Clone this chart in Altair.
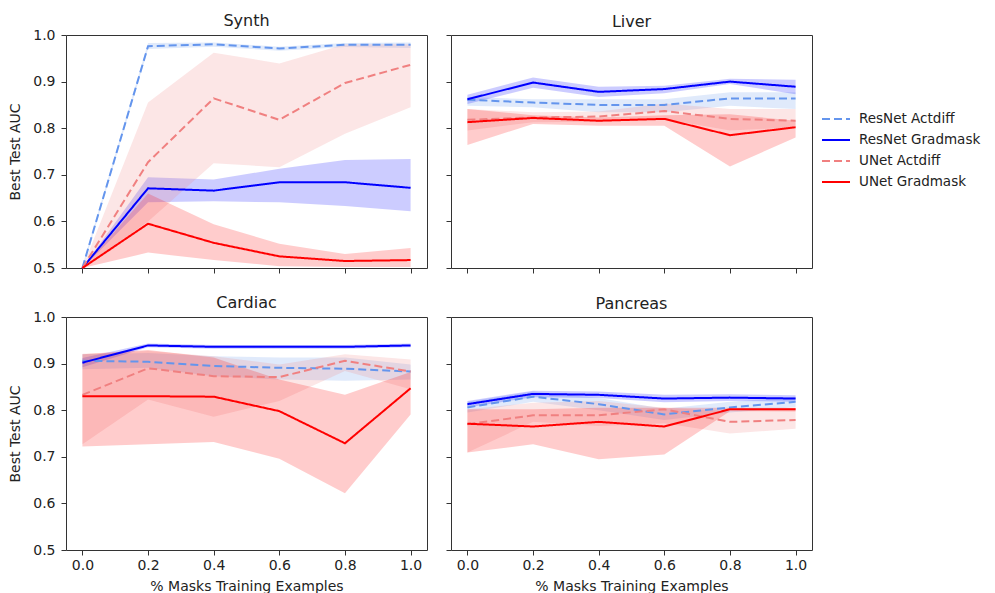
import altair as alt
import pandas as pd

x_vals = [0.0, 0.2, 0.4, 0.6, 0.8, 1.0]
series_names = ["ResNet Actdiff", "ResNet Gradmask", "UNet Actdiff", "UNet Gradmask"]
series_colors = ["#6495ED", "#0000FF", "#F08080", "#FF0000"]
panel_names = ["Synth", "Liver", "Cardiac", "Pancreas"]

# ---- Synth ----
synth_ra = [0.500, 0.976, 0.980, 0.971, 0.979, 0.979]
synth_ra_lo = [0.495, 0.970, 0.975, 0.966, 0.974, 0.972]
synth_ra_hi = [0.505, 0.983, 0.984, 0.975, 0.983, 0.984]
synth_rg = [0.500, 0.671, 0.666, 0.684, 0.684, 0.672]
synth_rg_lo = [0.500, 0.641, 0.643, 0.641, 0.633, 0.622]
synth_rg_hi = [0.500, 0.695, 0.690, 0.713, 0.732, 0.734]
synth_ua = [0.500, 0.727, 0.864, 0.818, 0.897, 0.936]
synth_ua_lo = [0.500, 0.600, 0.725, 0.716, 0.788, 0.845]
synth_ua_hi = [0.500, 0.855, 0.962, 0.939, 0.980, 0.980]
synth_ug = [0.500, 0.595, 0.554, 0.525, 0.515, 0.517]
synth_ug_lo = [0.500, 0.533, 0.517, 0.504, 0.502, 0.502]
synth_ug_hi = [0.500, 0.660, 0.594, 0.552, 0.530, 0.543]

# ---- Liver ----
liver_ra = [0.861, 0.855, 0.850, 0.850, 0.864, 0.864]
liver_ra_lo = [0.848, 0.845, 0.834, 0.834, 0.848, 0.841]
liver_ra_hi = [0.867, 0.862, 0.862, 0.862, 0.877, 0.877]
liver_rg = [0.862, 0.898, 0.878, 0.884, 0.900, 0.889]
liver_rg_lo = [0.852, 0.887, 0.867, 0.875, 0.895, 0.873]
liver_rg_hi = [0.872, 0.909, 0.889, 0.891, 0.906, 0.904]
liver_ua = [0.818, 0.823, 0.825, 0.837, 0.820, 0.816]
liver_ua_lo = [0.795, 0.813, 0.814, 0.820, 0.795, 0.802]
liver_ua_hi = [0.841, 0.834, 0.836, 0.853, 0.841, 0.841]
liver_ug = [0.813, 0.822, 0.816, 0.820, 0.785, 0.802]
liver_ug_lo = [0.764, 0.809, 0.805, 0.805, 0.718, 0.780]
liver_ug_hi = [0.841, 0.828, 0.823, 0.828, 0.830, 0.816]

# ---- Cardiac ----
cardiac_ra = [0.906, 0.904, 0.895, 0.891, 0.889, 0.883]
cardiac_ra_lo = [0.888, 0.891, 0.873, 0.866, 0.863, 0.866]
cardiac_ra_hi = [0.920, 0.923, 0.916, 0.913, 0.913, 0.898]
cardiac_rg = [0.902, 0.939, 0.936, 0.936, 0.936, 0.939]
cardiac_rg_lo = [0.892, 0.935, 0.932, 0.932, 0.932, 0.935]
cardiac_rg_hi = [0.912, 0.943, 0.940, 0.940, 0.940, 0.943]
cardiac_ua = [0.833, 0.890, 0.873, 0.871, 0.906, 0.883]
cardiac_ua_lo = [0.727, 0.823, 0.786, 0.820, 0.884, 0.845]
cardiac_ua_hi = [0.921, 0.927, 0.916, 0.898, 0.920, 0.909]
cardiac_ug = [0.830, 0.830, 0.829, 0.798, 0.729, 0.847]
cardiac_ug_lo = [0.722, 0.727, 0.732, 0.696, 0.622, 0.791]
cardiac_ug_hi = [0.920, 0.929, 0.913, 0.866, 0.833, 0.882]

# ---- Pancreas ----
pancreas_ra = [0.806, 0.829, 0.813, 0.791, 0.806, 0.818]
pancreas_ra_lo = [0.795, 0.818, 0.800, 0.779, 0.795, 0.807]
pancreas_ra_hi = [0.818, 0.840, 0.826, 0.803, 0.818, 0.829]
pancreas_rg = [0.813, 0.835, 0.833, 0.825, 0.827, 0.825]
pancreas_rg_lo = [0.806, 0.828, 0.826, 0.817, 0.820, 0.818]
pancreas_rg_hi = [0.820, 0.842, 0.840, 0.833, 0.834, 0.832]
pancreas_ua = [0.770, 0.789, 0.789, 0.802, 0.775, 0.779]
pancreas_ua_lo = [0.709, 0.775, 0.766, 0.772, 0.750, 0.760]
pancreas_ua_hi = [0.802, 0.816, 0.820, 0.805, 0.798, 0.805]
pancreas_ug = [0.771, 0.765, 0.775, 0.765, 0.802, 0.802]
pancreas_ug_lo = [0.709, 0.727, 0.695, 0.705, 0.798, 0.797]
pancreas_ug_hi = [0.802, 0.802, 0.805, 0.805, 0.805, 0.805]

panel_data = {
    "Synth": [(synth_ra, synth_ra_lo, synth_ra_hi), (synth_rg, synth_rg_lo, synth_rg_hi),
              (synth_ua, synth_ua_lo, synth_ua_hi), (synth_ug, synth_ug_lo, synth_ug_hi)],
    "Liver": [(liver_ra, liver_ra_lo, liver_ra_hi), (liver_rg, liver_rg_lo, liver_rg_hi),
              (liver_ua, liver_ua_lo, liver_ua_hi), (liver_ug, liver_ug_lo, liver_ug_hi)],
    "Cardiac": [(cardiac_ra, cardiac_ra_lo, cardiac_ra_hi), (cardiac_rg, cardiac_rg_lo, cardiac_rg_hi),
                (cardiac_ua, cardiac_ua_lo, cardiac_ua_hi), (cardiac_ug, cardiac_ug_lo, cardiac_ug_hi)],
    "Pancreas": [(pancreas_ra, pancreas_ra_lo, pancreas_ra_hi), (pancreas_rg, pancreas_rg_lo, pancreas_rg_hi),
                 (pancreas_ua, pancreas_ua_lo, pancreas_ua_hi), (pancreas_ug, pancreas_ug_lo, pancreas_ug_hi)],
}

rows = []
for p in panel_names:
    for s, (m, lo, hi) in zip(series_names, panel_data[p]):
        for i, x in enumerate(x_vals):
            rows.append({"panel": p, "series": s, "x": x, "mean": m[i], "lo": lo[i], "hi": hi[i]})
df = pd.DataFrame(rows)

FONT = "DejaVu Sans"
PW, PH = 361, 233

color_scale = alt.Scale(domain=series_names, range=series_colors)
dash_scale = alt.Scale(domain=series_names, range=[[8, 4], [1, 0], [8, 4], [1, 0]])


def make_panel(name, show_x, show_y):
    sub = df[df["panel"] == name]
    x_axis = alt.Axis(
        values=x_vals, format=".1f", labels=show_x,
        title="% Masks Training Examples" if show_x else None,
        grid=False,
    )
    y_axis = alt.Axis(
        values=[0.5, 0.6, 0.7, 0.8, 0.9, 1.0], format=".1f", labels=show_y,
        title="Best Test AUC" if show_y else None,
        grid=False,
    )
    xenc = alt.X("x:Q", scale=alt.Scale(domain=[-0.05, 1.05], nice=False, zero=False), axis=x_axis)
    yscale = alt.Scale(domain=[0.5, 1.0], nice=False, zero=False)
    base = alt.Chart(sub)
    layers = []
    for s, c in zip(series_names, series_colors):
        layers.append(
            base.transform_filter(alt.datum.series == s).mark_area(color=c, opacity=0.2).encode(
                x=xenc,
                y=alt.Y("lo:Q", scale=yscale, axis=y_axis),
                y2="hi:Q",
            )
        )
    line = base.mark_line(strokeWidth=2).encode(
        x=xenc,
        y=alt.Y("mean:Q", scale=yscale, axis=y_axis),
        color=alt.Color("series:N", scale=color_scale, sort=series_names, title=" "),
        strokeDash=alt.StrokeDash("series:N", scale=dash_scale, sort=series_names, title=" "),
    )
    layers.append(line)
    return alt.layer(*layers).properties(
        width=PW, height=PH,
        title=alt.TitleParams(name, fontSize=16, font=FONT, fontWeight="normal",
                              color="#222", offset=-1 if show_y else 5),
    )


top = alt.hconcat(make_panel("Synth", False, True), make_panel("Liver", False, False), spacing=17)
bottom = alt.hconcat(make_panel("Cardiac", True, True), make_panel("Pancreas", True, False), spacing=17)

chart = alt.vconcat(top, bottom, spacing=18).properties(
    padding={"left": 0, "top": 4, "right": 0, "bottom": 0}
).configure_view(
    stroke="#333", strokeWidth=1
).configure_axis(
    domain=False, tickColor="#333", tickSize=5, labelFont=FONT, labelFontSize=14,
    labelColor="#222", titleFont=FONT, titleFontSize=14, titleFontWeight="normal",
    titleColor="#222",
).configure_axisY(
    labelPadding=6, titlePadding=10
).configure_axisX(
    labelPadding=3, titlePadding=7
).configure_legend(
    orient="right", offset=8, padding=0,
    symbolType="stroke", symbolSize=784, symbolStrokeWidth=2, clipHeight=14,
    labelFontSize=13.5, labelFont=FONT, labelColor="#222",
    rowPadding=7, labelOffset=8,
    titleFontSize=14, titlePadding=63, titleFont=FONT,
)

chart.save("out.html", embed_options={"renderer": "svg", "actions": False})
